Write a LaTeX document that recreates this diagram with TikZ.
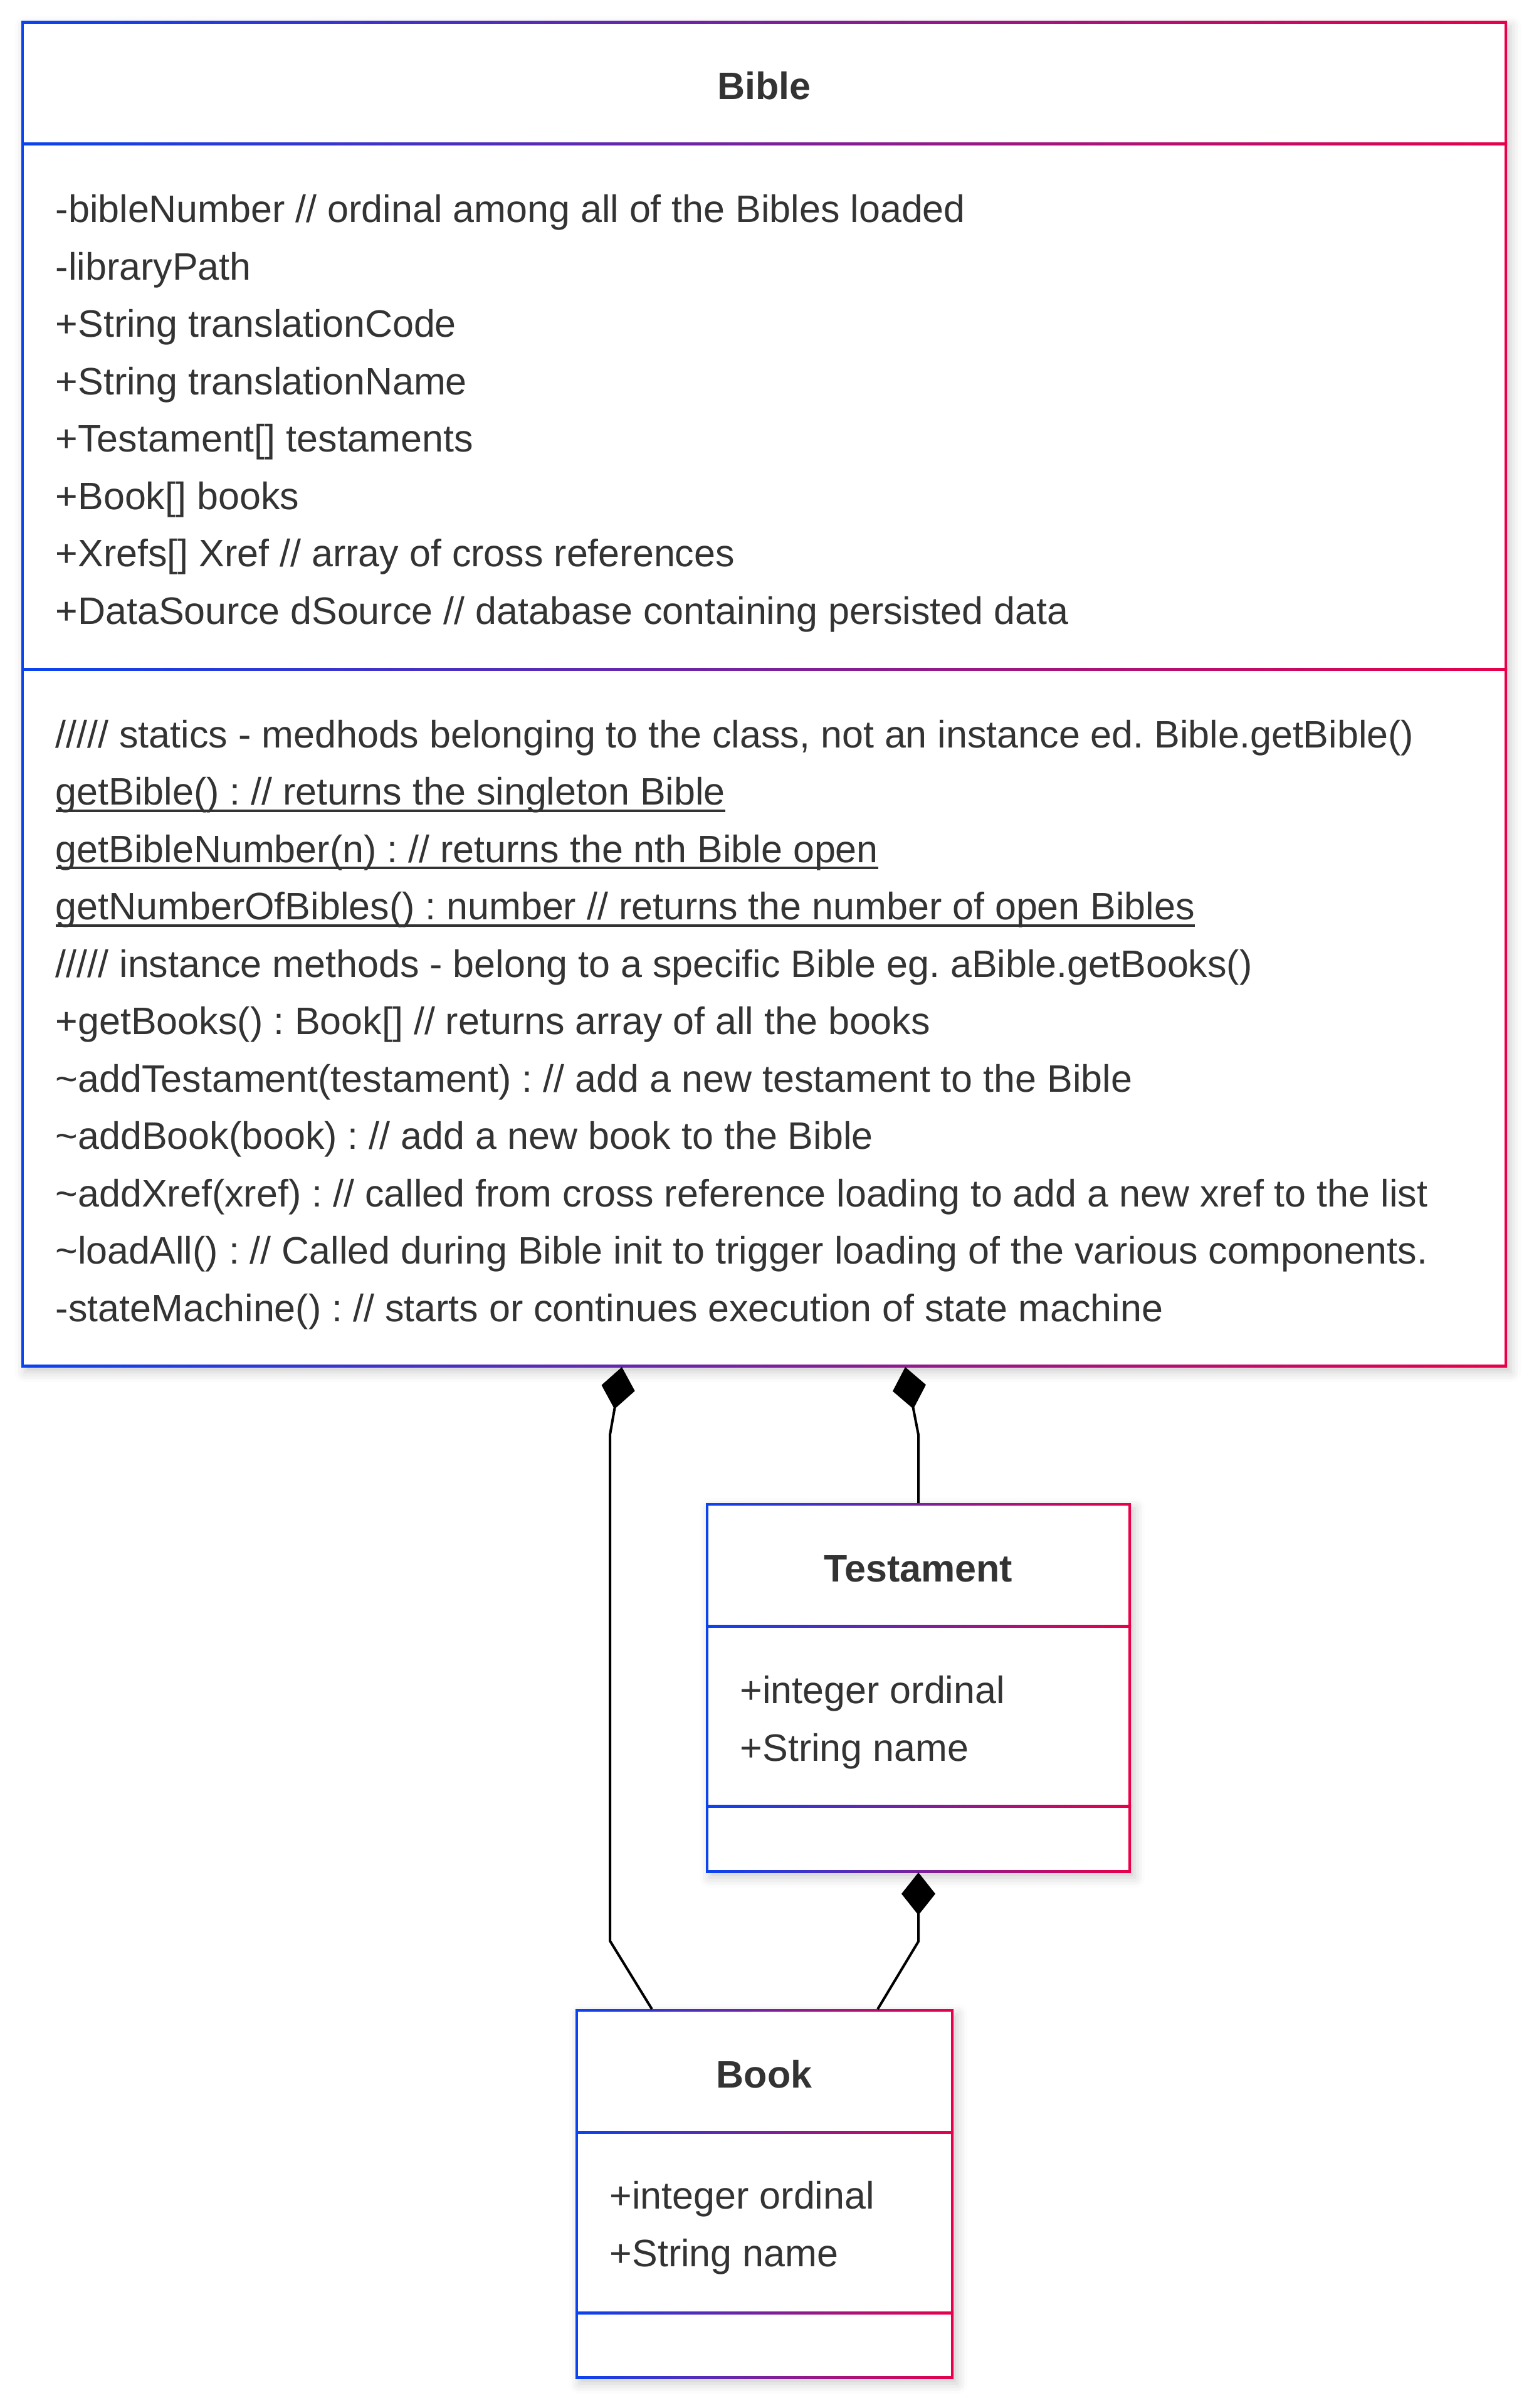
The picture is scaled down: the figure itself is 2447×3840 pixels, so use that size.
\documentclass[tikz,border=0pt]{standalone}
\usepackage{fontspec}
\setmainfont{Liberation Sans}
\usetikzlibrary{arrows.meta,calc,fit,shadows.blur}

\definecolor{umlblue}{HTML}{0A43F0}
\definecolor{umlred}{HTML}{E8004A}
\definecolor{umltext}{HTML}{333333}

\newcommand{\umlfont}{\fontsize{15.25pt}{22.875pt}\selectfont\frenchspacing}
\newcommand{\staticline}[1]{\setbox0\hbox{#1}\rlap{\rule[-2.75pt]{\wd0}{0.9pt}}\box0}

% frame of a class: name, corners, then the two dividers
\newcommand{\classframe}[7]{%
  \node[classbox, fit={(#2,#3) (#4,#5)}] (#1) {};
  \fill[white] ([shift={(1pt,-1pt)}]#1.north west) rectangle ([shift={(-1pt,1pt)}]#1.south east);
  \shade[classrule] (#2,#6-2) rectangle (#4,#6+2);
  \shade[classrule] (#2,#7-2) rectangle (#4,#7+2);
}

\tikzset{
  classbox/.style={inner sep=0pt, outer sep=0pt, left color=umlblue, right color=umlred,
    blur shadow={shadow xshift=1.5pt, shadow yshift=-2pt, shadow blur radius=4pt, shadow opacity=20}},
  classrule/.style={left color=umlblue, right color=umlred},
  classtitle/.style={anchor=base, inner sep=0pt, text=umltext, font=\umlfont\bfseries},
  % text lines are placed by the baseline of their last line
  classtext/.style={anchor=base west, inner sep=0pt, align=left, text=umltext, font=\umlfont},
  composition/.style={-{Diamond[length=17pt,width=13.5pt]}, line width=1pt, line join=round}
}

\begin{document}
\begin{tikzpicture}[x=0.25pt,y=-0.25pt]
  \useasboundingbox (0,0) rectangle (2447,3840);

  % Bible
  \classframe{bible}{34}{34}{2404}{2180}{230}{1067}
  \node[classtitle] (bibletitle) at (1219,159) {Bible};
  \node[classtext] (bibleattr) at (88,995) {-bibleNumber // ordinal among all of the Bibles loaded\\
    -libraryPath\\
    +String translationCode\\
    +String translationName\\
    +Testament[] testaments\\
    +Book[] books\\
    +Xrefs[] Xref // array of cross references\\
    +DataSource dSource // database containing persisted data};
  \node[classtext] (biblemeth) at (88,2107) {///// statics - medhods belonging to the class, not an instance ed. Bible.getBible()\\
    \staticline{getBible() : // returns the singleton Bible}\\
    \staticline{getBibleNumber(n) : // returns the nth Bible open}\\
    \staticline{getNumberOfBibles() : number // returns the number of open Bibles}\\
    ///// instance methods - belong to a specific Bible eg. aBible.getBooks()\\
    +getBooks() : Book[] // returns array of all the books\\
    \textasciitilde addTestament(testament) : // add a new testament to the Bible\\
    \textasciitilde addBook(book) : // add a new book to the Bible\\
    \textasciitilde addXref(xref) : // called from cross reference loading to add a new xref to the list\\
    \textasciitilde loadAll() : // Called during Bible init to trigger loading of the various components.\\
    -stateMachine() : // starts or continues execution of state machine};

  % Testament
  \classframe{testament}{1126}{2397}{1804}{2986}{2593}{2880}
  \node[classtitle] (testamenttitle) at (1465,2522) {Testament};
  \node[classtext] (testamentattr) at (1180,2808) {+integer ordinal\\
    +String name};

  % Book
  \classframe{book}{918}{3204}{1521}{3793}{3400}{3688}
  \node[classtitle] (booktitle) at (1219,3329) {Book};
  \node[classtext] (bookattr) at (972,3614) {+integer ordinal\\
    +String name};

  % compositions
  \draw[composition] ($(book.north west)+(122,0)$) -- ++(-67,-109) -- ++(0,-807)
    -- ($(bible.south west)+(958,0)$);
  \draw[composition] (testament.north) -- ++(0,-109) -- ($(bible.south west)+(1410,0)$);
  \draw[composition] ($(book.north west)+(482,0)$) -- ++(65,-108) -- (testament.south);
\end{tikzpicture}
\end{document}
